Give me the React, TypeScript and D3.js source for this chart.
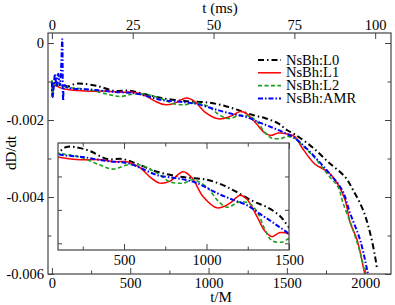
import { useEffect, useRef } from "react";
import * as d3 from "d3";

type Pt = [number, number];

// t/M , dD/dt
const seriesL0: Pt[] = [
  [0, -0.00098], [4, -0.0014], [10, -0.00112], [20, -0.00103], [45, -0.00107], [70, -0.00108],
  [100, -0.00113], [150, -0.00106], [203, -0.00106], [294, -0.00112], [397, -0.00124], [494, -0.00124],
  [597, -0.00133], [700, -0.00143], [858, -0.00151], [1003, -0.00155], [1100, -0.00163], [1173, -0.00172],
  [1282, -0.00187], [1367, -0.00196], [1445, -0.00209], [1500, -0.00226], [1553, -0.00238], [1661, -0.0027],
  [1764, -0.00309], [1872, -0.00348], [1923, -0.00382], [1987, -0.00434], [2032, -0.00494], [2064, -0.00556],
  [2077, -0.0059],
];
const seriesL1: Pt[] = [
  [0, -0.001], [4, -0.0014], [10, -0.00116], [20, -0.00109], [50, -0.00116], [100, -0.00121],
  [233, -0.00125], [355, -0.00125], [445, -0.00128], [518, -0.00128], [597, -0.00137], [658, -0.00151],
  [718, -0.0016], [779, -0.00157], [858, -0.00143], [912, -0.00152], [979, -0.0018], [1064, -0.00197],
  [1142, -0.0019], [1203, -0.00178], [1245, -0.00184], [1306, -0.0021], [1355, -0.00232], [1397, -0.0024],
  [1445, -0.00234], [1500, -0.00236], [1553, -0.00244], [1597, -0.00272], [1680, -0.00315], [1764, -0.00335],
  [1827, -0.00368], [1872, -0.00408], [1904, -0.00466], [1949, -0.00512], [1987, -0.0058], [2000, -0.00605],
];
const seriesL2: Pt[] = [
  [0, -0.00097], [4, -0.00138], [10, -0.00112], [20, -0.00105], [50, -0.0011], [100, -0.00115],
  [233, -0.00121], [355, -0.00133], [433, -0.00139], [518, -0.00133], [597, -0.00133], [700, -0.00145],
  [779, -0.00158], [858, -0.0016], [918, -0.00155], [1003, -0.00166], [1064, -0.00185], [1124, -0.00196],
  [1203, -0.00188], [1264, -0.00191], [1312, -0.00205], [1355, -0.0023], [1397, -0.00246], [1464, -0.00248],
  [1500, -0.00243], [1553, -0.00248], [1597, -0.00265], [1680, -0.00299], [1764, -0.00343], [1827, -0.00374],
  [1859, -0.00416], [1923, -0.00486], [1981, -0.00564], [2000, -0.00605],
];
const seriesAMR: Pt[] = [
  [0, -0.00102], [5, -0.0014], [12, -0.0011], [20, -0.0008], [30, -0.00115], [40, -0.0008],
  [50, -0.0011], [58, -0.0007], [66, 0.0001], [72, -0.0015], [80, -0.0011], [100, -0.00116],
  [252, -0.00121], [397, -0.00127], [518, -0.0013], [597, -0.00137], [700, -0.00148], [797, -0.00152],
  [870, -0.00155], [942, -0.0016], [1064, -0.00175], [1161, -0.00185], [1245, -0.00193], [1324, -0.00206],
  [1415, -0.00221], [1500, -0.00236], [1553, -0.00248], [1636, -0.00278], [1764, -0.00335], [1853, -0.00382],
  [1904, -0.00442], [1968, -0.00512], [2013, -0.0059], [2020, -0.00605],
];

const legendLabels = ["NsBh:L0", "NsBh:L1", "NsBh:L2", "NsBh:AMR"];

const xMajor = [0, 500, 1000, 1500, 2000];
const xMinor = [250, 750, 1250, 1750];
const msMajor = [0, 25, 50, 75, 100];
const yMajor = [0, -0.002, -0.004, -0.006];
const yMinor = [-0.001, -0.003, -0.005];
const insetXMajor = [500, 1000, 1500];
const insetXMinor = [250, 750, 1250];
const insetYTicks = [-0.0015, -0.002, -0.0025];

const M_PER_MS = 20.64;

const App = () => {
  const ref = useRef<SVGSVGElement>(null);

  useEffect(() => {
    const svg = d3.select(ref.current);
    svg.selectAll("*").remove();

    const font = "Liberation Serif";
    const frame = "#444";
    const all = [seriesL0, seriesL1, seriesL2, seriesAMR];
    const styles = [
      { color: "#000000", dash: "6,3,1.5,3", width: 2 },
      { color: "#ff0000", dash: "", width: 1.5 },
      { color: "#1f9f1f", dash: "4,2.5", width: 1.6 },
      { color: "#0000ff", dash: "5,2,1.5,2", width: 2 },
    ];

    // main plot
    const left = 48, right = 391, top = 33, bottom = 274;
    var x = d3.scaleLinear().domain([-25, 2165]).range([left, right]);
    var xMs = d3.scaleLinear().domain([-25 / M_PER_MS, 2165 / M_PER_MS]).range([left, right]);
    var y = d3.scaleLinear().domain([-0.006, 0.00026]).range([bottom, top]);

    svg.append("rect").attr("width", 395).attr("height", 305).attr("fill", "white");

    const defs = svg.append("defs");
    defs.append("clipPath").attr("id", "clipMain").append("rect")
      .attr("x", left).attr("y", top).attr("width", right - left).attr("height", bottom - top);

    const styleAxis = (g: any, size: number) => {
      g.attr("font-family", null).attr("font-size", null);
      g.select(".domain").remove();
      g.selectAll("line").attr("stroke", frame);
      g.selectAll("text").style("font-family", font).style("font-size", size + "px").attr("fill", "#000");
    };

    const yFmt = (d: any) => (d === 0 ? "0" : (+d).toFixed(3));

    svg.append("g").attr("transform", "translate(0," + bottom + ")")
      .call(d3.axisBottom(x).tickValues(xMajor).tickSize(-6).tickPadding(3.5).tickFormat(d3.format("d")))
      .call((g: any) => styleAxis(g, 14.5));
    svg.append("g").attr("transform", "translate(0," + bottom + ")")
      .call(d3.axisBottom(x).tickValues(xMinor).tickSize(-3.5).tickFormat(() => ""))
      .call((g: any) => styleAxis(g, 14.5));
    svg.append("g").attr("transform", "translate(0," + top + ")")
      .call(d3.axisTop(xMs).tickValues(msMajor).tickSize(-6).tickPadding(3).tickFormat(d3.format("d")))
      .call((g: any) => styleAxis(g, 14.5));
    svg.append("g").attr("transform", "translate(" + left + ",0)")
      .call(d3.axisLeft(y).tickValues(yMajor).tickSize(-6).tickPadding(4).tickFormat(yFmt))
      .call((g: any) => styleAxis(g, 14.5));
    svg.append("g").attr("transform", "translate(" + left + ",0)")
      .call(d3.axisLeft(y).tickValues(yMinor).tickSize(-3.5).tickFormat(() => ""))
      .call((g: any) => styleAxis(g, 14.5));
    svg.append("g").attr("transform", "translate(" + right + ",0)")
      .call(d3.axisRight(y).tickValues(yMajor).tickSize(-6).tickFormat(() => ""))
      .call((g: any) => styleAxis(g, 14.5));
    svg.append("g").attr("transform", "translate(" + right + ",0)")
      .call(d3.axisRight(y).tickValues(yMinor).tickSize(-3.5).tickFormat(() => ""))
      .call((g: any) => styleAxis(g, 14.5));

    const mainLine = d3.line<Pt>()
      .x((d) => x(d[0]))
      .y((d) => y(d[1]))
      .curve(d3.curveCatmullRom.alpha(0.5));

    const mainG = svg.append("g").attr("clip-path", "url(#clipMain)");
    mainG.selectAll(".line")
      .data(all)
      .enter()
      .append("path")
      .attr("fill", "none")
      .attr("stroke", (_d, i) => styles[i].color)
      .attr("stroke-width", (_d, i) => styles[i].width)
      .attr("stroke-dasharray", (_d, i) => styles[i].dash || null)
      .attr("d", (d) => mainLine(d));

    svg.append("rect")
      .attr("x", left).attr("y", top).attr("width", right - left).attr("height", bottom - top)
      .attr("fill", "none").attr("stroke", frame).attr("stroke-width", 1.2);

    // inset
    const iL = 58, iR = 289, iT = 143, iB = 250;
    var xi = d3.scaleLinear().domain([100, 1500]).range([iL, iR]);
    var yi = d3.scaleLinear().domain([-0.0026, -0.001]).range([iB, iT]);

    defs.append("clipPath").attr("id", "clipInset").append("rect")
      .attr("x", iL).attr("y", iT).attr("width", iR - iL).attr("height", iB - iT);

    svg.append("rect")
      .attr("x", iL).attr("y", iT).attr("width", iR - iL).attr("height", iB - iT)
      .attr("fill", "white");

    svg.append("g").attr("transform", "translate(0," + iB + ")")
      .call(d3.axisBottom(xi).tickValues(insetXMajor).tickSize(-6).tickPadding(4.5).tickFormat(d3.format("d")))
      .call((g: any) => styleAxis(g, 14.5));
    svg.append("g").attr("transform", "translate(0," + iB + ")")
      .call(d3.axisBottom(xi).tickValues(insetXMinor).tickSize(-3.5).tickFormat(() => ""))
      .call((g: any) => styleAxis(g, 14.5));
    svg.append("g").attr("transform", "translate(0," + iT + ")")
      .call(d3.axisTop(xi).tickValues(insetXMajor).tickSize(-6).tickFormat(() => ""))
      .call((g: any) => styleAxis(g, 14.5));
    svg.append("g").attr("transform", "translate(0," + iT + ")")
      .call(d3.axisTop(xi).tickValues(insetXMinor).tickSize(-3.5).tickFormat(() => ""))
      .call((g: any) => styleAxis(g, 14.5));
    svg.append("g").attr("transform", "translate(" + iL + ",0)")
      .call(d3.axisLeft(yi).tickValues(insetYTicks).tickSize(-4).tickFormat(() => ""))
      .call((g: any) => styleAxis(g, 14.5));
    svg.append("g").attr("transform", "translate(" + iR + ",0)")
      .call(d3.axisRight(yi).tickValues(insetYTicks).tickSize(-4).tickFormat(() => ""))
      .call((g: any) => styleAxis(g, 14.5));

    const insetLine = d3.line<Pt>()
      .x((d) => xi(d[0]))
      .y((d) => yi(d[1]))
      .curve(d3.curveCatmullRom.alpha(0.5));

    const insetG = svg.append("g").attr("clip-path", "url(#clipInset)");
    insetG.selectAll(".line")
      .data(all.map((s) => s.filter((p) => p[0] >= 50 && p[0] <= 1600)))
      .enter()
      .append("path")
      .attr("fill", "none")
      .attr("stroke", (_d, i) => styles[i].color)
      .attr("stroke-width", (_d, i) => styles[i].width)
      .attr("stroke-dasharray", (_d, i) => styles[i].dash || null)
      .attr("d", (d) => insetLine(d));

    svg.append("rect")
      .attr("x", iL).attr("y", iT).attr("width", iR - iL).attr("height", iB - iT)
      .attr("fill", "none").attr("stroke", frame).attr("stroke-width", 1.2);

    // legend
    const legend = svg.append("g");
    legendLabels.forEach((label, i) => {
      const ly = 60 + i * 12.8;
      legend.append("line")
        .attr("x1", 258).attr("x2", 281).attr("y1", ly).attr("y2", ly)
        .attr("stroke", styles[i].color)
        .attr("stroke-width", styles[i].width)
        .attr("stroke-dasharray", styles[i].dash || null);
      legend.append("text")
        .attr("x", 286).attr("y", ly + 4.5)
        .style("font-family", font).style("font-size", "14.5px")
        .text(label);
    });

    // axis titles
    svg.append("text").attr("x", 220).attr("y", 13).attr("text-anchor", "middle")
      .style("font-family", font).style("font-size", "15px").text("t (ms)");
    svg.append("text").attr("x", 221).attr("y", 302).attr("text-anchor", "middle")
      .style("font-family", font).style("font-size", "15px").text("t/M");
    svg.append("text").attr("transform", "translate(16,153) rotate(-90)").attr("text-anchor", "middle")
      .style("font-family", font).style("font-size", "15px").text("dD/dt");
  }, []);

  return (
    <svg ref={ref} width={395} height={305} style={{ position: "absolute", left: 0, top: 0 }} />
  );
};

export default App;
